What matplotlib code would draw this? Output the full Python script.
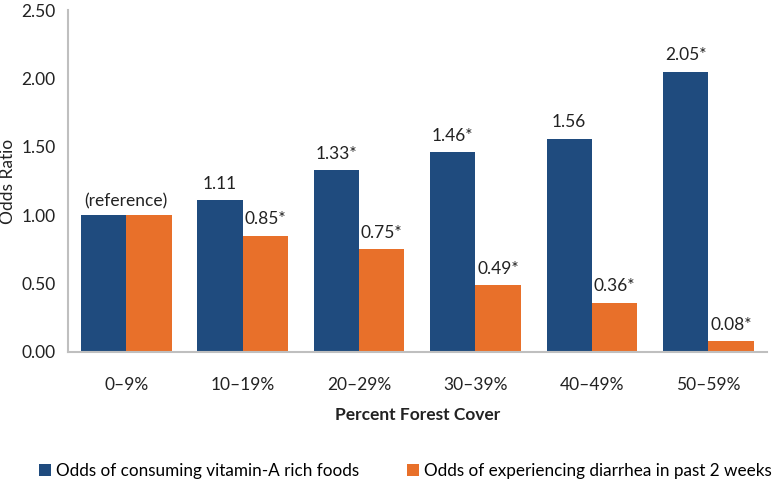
import matplotlib.pyplot as plt
import numpy as np

plt.rcParams['font.family'] = ['Lato', 'DejaVu Sans']

# data
categories = ['0–9%', '10–19%', '20–29%', '30–39%', '40–49%', '50–59%']
vitamin_a = [1.00, 1.11, 1.33, 1.46, 1.56, 2.05]
diarrhea = [1.00, 0.85, 0.75, 0.49, 0.36, 0.08]
vitamin_labels = ['', '1.11', '1.33*', '1.46*', '1.56', '2.05*']
diarrhea_labels = ['', '0.85*', '0.75*', '0.49*', '0.36*', '0.08*']
y_ticks = [0.0, 0.5, 1.0, 1.5, 2.0, 2.5]

blue = '#1F4B7E'
orange = '#E8702A'
grey = '#BFBFBF'

fig = plt.figure(figsize=(7.72, 4.82), dpi=100)
ax = fig.add_axes([0.088, 0.27, 0.905, 0.709])

x = np.arange(len(categories))
w = 0.39
b1 = ax.bar(x - w / 2, vitamin_a, w, color=blue,
            label='Odds of consuming vitamin-A rich foods')
b2 = ax.bar(x + w / 2, diarrhea, w, color=orange,
            label='Odds of experiencing diarrhea in past 2 weeks')

# value labels above bars
for xi, v, lab in zip(x, vitamin_a, vitamin_labels):
    if lab:
        ax.text(xi - w / 2, v + 0.06, lab, ha='center', va='bottom',
                fontsize=12.5, color='#222222')
for xi, v, lab in zip(x, diarrhea, diarrhea_labels):
    if lab:
        ax.text(xi + w / 2, v + 0.06, lab, ha='center', va='bottom',
                fontsize=12.5, color='#222222')
ax.text(x[0], vitamin_a[0] + 0.04, '(reference)', ha='center', va='bottom',
        fontsize=12.5, color='#222222')

ax.set_xlim(-0.5, len(categories) - 0.5)
ax.set_ylim(0, 2.5)
ax.set_yticks(y_ticks)
ax.set_yticklabels(['%.2f' % t for t in y_ticks])
ax.set_xticks(x)
ax.set_xticklabels(categories)
ax.tick_params(axis='both', length=0, labelsize=12.5, colors='#222222')
ax.tick_params(axis='x', pad=18)
ax.tick_params(axis='y', pad=9)

for side in ['top', 'right']:
    ax.spines[side].set_visible(False)
for side in ['left', 'bottom']:
    ax.spines[side].set_color(grey)
    ax.spines[side].set_linewidth(1.5)

ax.set_xlabel('Percent Forest Cover', fontsize=12.5, fontweight='bold',
              labelpad=10, color='#222222')
ax.set_ylabel('Odds Ratio', fontsize=12.5, color='#222222')
ax.yaxis.set_label_coords(-0.075, 0.5)

fig.legend(handles=[b1, b2], loc='center', bbox_to_anchor=(0.525, 0.022),
           ncol=2, frameon=False, fontsize=12.3, handlelength=0.7,
           handleheight=0.7, handletextpad=0.3, columnspacing=2.8)

fig.savefig('out.png', dpi=100)
